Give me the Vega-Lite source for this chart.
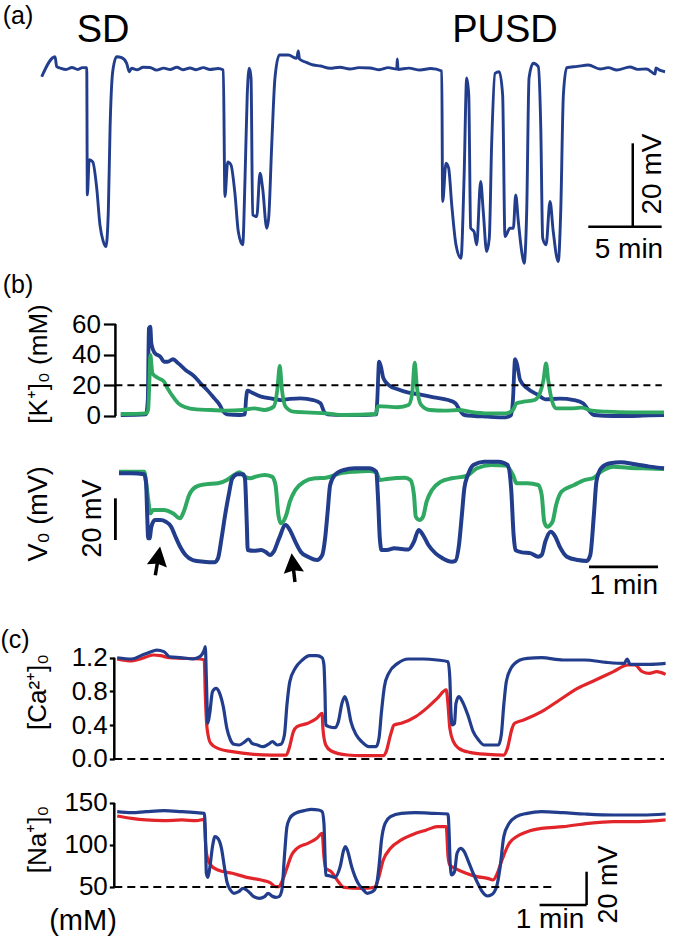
{
"$schema": "https://vega.github.io/schema/vega-lite/v6.json",
"padding": 0,
"spacing": 0,
"bounds": "flush",
"datasets": {
"a": [{"t":-0.02,"v":-1.97},{"t":0.89,"v":2.83},{"t":1.0,"v":0.43},{"t":1.23,"v":0.12},{"t":1.64,"v":-0.24},{"t":2.04,"v":0.24},{"t":2.45,"v":-0.24},{"t":2.75,"v":0.2},{"t":3.05,"v":0.19},{"t":3.09,"v":-30.3},{"t":3.22,"v":-21.9},{"t":3.46,"v":-22.4},{"t":3.73,"v":-28.7},{"t":3.95,"v":-37.5},{"t":4.18,"v":-41.5},{"t":4.36,"v":-42.7},{"t":4.52,"v":-34.3},{"t":4.64,"v":-14.3},{"t":4.82,"v":-0.77},{"t":5.09,"v":2.83},{"t":5.43,"v":2.59},{"t":5.77,"v":1.25},{"t":5.95,"v":-0.77},{"t":6.11,"v":0.05},{"t":6.5,"v":-0.3},{"t":6.9,"v":0.3},{"t":7.36,"v":0.24},{"t":7.8,"v":-0.4},{"t":8.3,"v":0.1},{"t":8.73,"v":-0.24},{"t":9.2,"v":0.3},{"t":9.6,"v":-0.3},{"t":10.09,"v":0.12},{"t":10.5,"v":-0.3},{"t":11.0,"v":0.2},{"t":11.45,"v":-0.24},{"t":12.0,"v":0},{"t":12.36,"v":-0.36},{"t":12.47,"v":-30.7},{"t":12.66,"v":-22.4},{"t":12.88,"v":-23.1},{"t":13.16,"v":-30.3},{"t":13.38,"v":-39.1},{"t":13.68,"v":-42.3},{"t":13.84,"v":-26.3},{"t":13.99,"v":-6.35},{"t":14.13,"v":0.05},{"t":14.25,"v":-2.28},{"t":14.36,"v":-35.1},{"t":14.64,"v":-35.5},{"t":14.86,"v":-25.1},{"t":15.04,"v":-28.7},{"t":15.32,"v":-38.3},{"t":15.45,"v":-35.9},{"t":15.66,"v":-18.3},{"t":15.88,"v":-2.28},{"t":16.18,"v":3.24},{"t":16.79,"v":3.24},{"t":17.36,"v":2.45},{"t":17.47,"v":4.2},{"t":17.55,"v":2.28},{"t":18.0,"v":1.5},{"t":18.49,"v":0.84},{"t":19.0,"v":0.6},{"t":19.63,"v":0.05},{"t":20.3,"v":0.3},{"t":20.99,"v":-0.12},{"t":21.6,"v":0.2},{"t":22.36,"v":0.12},{"t":23.0,"v":-0.3},{"t":23.6,"v":0.2},{"t":24.18,"v":-0.12},{"t":24.22,"v":2.28},{"t":24.27,"v":-0.24},{"t":25.0,"v":0.1},{"t":25.77,"v":-0.36},{"t":26.5,"v":0},{"t":27.25,"v":-0.6},{"t":27.31,"v":-31.9},{"t":27.54,"v":-22.7},{"t":27.72,"v":-23.9},{"t":27.93,"v":-32.7},{"t":28.22,"v":-42.3},{"t":28.56,"v":-45.5},{"t":28.77,"v":-26.3},{"t":28.95,"v":-2.28},{"t":29.09,"v":-6.35},{"t":29.22,"v":-38.3},{"t":29.45,"v":-39.1},{"t":29.63,"v":-42.3},{"t":29.9,"v":-27.1},{"t":30.08,"v":-34.3},{"t":30.31,"v":-43.9},{"t":30.49,"v":-40.7},{"t":30.65,"v":-18.3},{"t":30.88,"v":-1.15},{"t":31.17,"v":-0.77},{"t":31.4,"v":-6.35},{"t":31.56,"v":-40.3},{"t":31.9,"v":-38.3},{"t":32.13,"v":-38.3},{"t":32.29,"v":-30.3},{"t":32.47,"v":-36.7},{"t":32.7,"v":-43.9},{"t":32.86,"v":-46.7},{"t":33.04,"v":-34.3},{"t":33.2,"v":-2.28},{"t":33.49,"v":1.25},{"t":33.83,"v":0.43},{"t":34.0,"v":-14.3},{"t":34.13,"v":-40.7},{"t":34.36,"v":-42.3},{"t":34.63,"v":-31.9},{"t":34.85,"v":-39.1},{"t":35.19,"v":-46.3},{"t":35.36,"v":-34.3},{"t":35.54,"v":-6.35},{"t":35.77,"v":0.19},{"t":36.5,"v":0.5},{"t":37.24,"v":0.84},{"t":38.04,"v":-0.12},{"t":38.6,"v":0.2},{"t":39.18,"v":-0.36},{"t":40.08,"v":0.36},{"t":40.6,"v":-0.2},{"t":41.22,"v":-0.12},{"t":41.79,"v":-1.32},{"t":41.85,"v":0.12},{"t":42.1,"v":-0.4},{"t":42.47,"v":-0.77}],
"kb": [{"t":0,"v":0.65},{"t":0.365,"v":1.09},{"t":0.391,"v":10.4},{"t":0.407,"v":57.2},{"t":0.428,"v":58.3},{"t":0.443,"v":47.4},{"t":0.495,"v":40.9},{"t":0.574,"v":38.7},{"t":0.626,"v":35.4},{"t":0.678,"v":35.4},{"t":0.756,"v":37.0},{"t":0.834,"v":34.3},{"t":0.938,"v":30.0},{"t":1.069,"v":25.7},{"t":1.147,"v":21.7},{"t":1.251,"v":17.0},{"t":1.356,"v":11.5},{"t":1.434,"v":7.2},{"t":1.486,"v":2.8},{"t":1.538,"v":1.09},{"t":1.721,"v":0.65},{"t":1.799,"v":1.09},{"t":1.814,"v":10.4},{"t":1.835,"v":16.5},{"t":1.903,"v":15.2},{"t":2.033,"v":12.6},{"t":2.19,"v":11.3},{"t":2.32,"v":10.4},{"t":2.45,"v":11.1},{"t":2.607,"v":11.5},{"t":2.789,"v":10.4},{"t":2.894,"v":8.3},{"t":2.946,"v":2.8},{"t":2.998,"v":1.09},{"t":3.233,"v":0.65},{"t":3.493,"v":0.65},{"t":3.702,"v":1.09},{"t":3.717,"v":10.4},{"t":3.743,"v":35.4},{"t":3.77,"v":32.2},{"t":3.806,"v":24.6},{"t":3.884,"v":20.2},{"t":4.015,"v":17.4},{"t":4.171,"v":15.2},{"t":4.327,"v":14.1},{"t":4.536,"v":12.2},{"t":4.745,"v":10.4},{"t":4.849,"v":8.3},{"t":4.911,"v":3.9},{"t":4.979,"v":0.65},{"t":5.318,"v":-0.43},{"t":5.579,"v":-0.87},{"t":5.657,"v":0.65},{"t":5.683,"v":10.4},{"t":5.714,"v":37.0},{"t":5.745,"v":33.3},{"t":5.787,"v":23.5},{"t":5.892,"v":18.0},{"t":6.048,"v":13.7},{"t":6.152,"v":10.9},{"t":6.361,"v":11.3},{"t":6.569,"v":10.4},{"t":6.7,"v":8.3},{"t":6.778,"v":3.9},{"t":6.856,"v":0.65},{"t":7.143,"v":0},{"t":7.404,"v":0},{"t":7.664,"v":0.43},{"t":7.873,"v":0.65}],
"kg": [{"t":0,"v":1.3},{"t":0.365,"v":1.74},{"t":0.396,"v":3.9},{"t":0.417,"v":25.7},{"t":0.428,"v":39.8},{"t":0.459,"v":27.8},{"t":0.547,"v":24.6},{"t":0.626,"v":22.4},{"t":0.678,"v":18.0},{"t":0.756,"v":12.6},{"t":0.834,"v":8.3},{"t":0.938,"v":5.7},{"t":1.095,"v":4.3},{"t":1.303,"v":3.9},{"t":1.512,"v":3.5},{"t":1.773,"v":3.9},{"t":1.929,"v":5.0},{"t":2.085,"v":3.9},{"t":2.216,"v":6.1},{"t":2.268,"v":17.0},{"t":2.304,"v":32.6},{"t":2.336,"v":17.0},{"t":2.388,"v":6.1},{"t":2.503,"v":2.8},{"t":2.763,"v":2.2},{"t":2.972,"v":1.74},{"t":3.233,"v":0.65},{"t":3.691,"v":1.3},{"t":3.728,"v":6.5},{"t":4.015,"v":5.7},{"t":4.171,"v":7.2},{"t":4.223,"v":14.8},{"t":4.26,"v":34.8},{"t":4.291,"v":19.1},{"t":4.353,"v":7.2},{"t":4.484,"v":3.9},{"t":4.692,"v":3.5},{"t":4.901,"v":3.9},{"t":5.057,"v":2.8},{"t":5.318,"v":1.74},{"t":5.579,"v":1.74},{"t":5.683,"v":3.9},{"t":5.735,"v":8.3},{"t":5.839,"v":9.3},{"t":5.996,"v":10.4},{"t":6.074,"v":14.8},{"t":6.126,"v":23.5},{"t":6.163,"v":34.3},{"t":6.194,"v":23.5},{"t":6.246,"v":10.4},{"t":6.309,"v":5.0},{"t":6.517,"v":5.0},{"t":6.674,"v":5.4},{"t":6.83,"v":3.5},{"t":7.039,"v":2.8},{"t":7.404,"v":2.4},{"t":7.873,"v":2.4}],
"vb": [{"t":-0.026,"v":0},{"t":0.156,"v":0},{"t":0.339,"v":-0.48},{"t":0.365,"v":-4.0},{"t":0.386,"v":-23.2},{"t":0.396,"v":-31.2},{"t":0.417,"v":-31.2},{"t":0.443,"v":-25.6},{"t":0.495,"v":-22.4},{"t":0.574,"v":-22.4},{"t":0.652,"v":-23.2},{"t":0.73,"v":-25.6},{"t":0.782,"v":-29.6},{"t":0.86,"v":-35.2},{"t":0.938,"v":-39.2},{"t":1.043,"v":-41.6},{"t":1.199,"v":-42.4},{"t":1.356,"v":-42.7},{"t":1.408,"v":-40.8},{"t":1.46,"v":-31.2},{"t":1.512,"v":-20.0},{"t":1.564,"v":-10.4},{"t":1.616,"v":-2.4},{"t":1.694,"v":-0.48},{"t":1.773,"v":-0.48},{"t":1.799,"v":-2.4},{"t":1.825,"v":-23.2},{"t":1.84,"v":-36.8},{"t":1.929,"v":-37.2},{"t":2.033,"v":-36.8},{"t":2.096,"v":-37.6},{"t":2.164,"v":-39.2},{"t":2.216,"v":-37.6},{"t":2.294,"v":-31.2},{"t":2.388,"v":-24.8},{"t":2.45,"v":-27.2},{"t":2.529,"v":-32.8},{"t":2.607,"v":-37.6},{"t":2.711,"v":-40.0},{"t":2.842,"v":-41.6},{"t":2.92,"v":-39.2},{"t":2.961,"v":-31.2},{"t":2.998,"v":-18.4},{"t":3.034,"v":-5.6},{"t":3.102,"v":-0.8},{"t":3.233,"v":1.6},{"t":3.389,"v":2.4},{"t":3.598,"v":2.4},{"t":3.702,"v":0.8},{"t":3.728,"v":-12.0},{"t":3.754,"v":-31.2},{"t":3.78,"v":-36.8},{"t":3.858,"v":-36.8},{"t":3.962,"v":-36.0},{"t":4.171,"v":-36.5},{"t":4.249,"v":-32.8},{"t":4.317,"v":-27.2},{"t":4.38,"v":-29.6},{"t":4.458,"v":-34.4},{"t":4.562,"v":-38.4},{"t":4.666,"v":-40.8},{"t":4.797,"v":-42.4},{"t":4.849,"v":-42.0},{"t":4.901,"v":-34.4},{"t":4.943,"v":-20.0},{"t":4.979,"v":-7.2},{"t":5.031,"v":-0.8},{"t":5.11,"v":4.0},{"t":5.266,"v":5.6},{"t":5.474,"v":5.6},{"t":5.605,"v":4.0},{"t":5.657,"v":-7.2},{"t":5.693,"v":-29.6},{"t":5.72,"v":-36.8},{"t":5.813,"v":-37.9},{"t":5.944,"v":-38.4},{"t":6.048,"v":-40.0},{"t":6.1,"v":-39.2},{"t":6.152,"v":-32.8},{"t":6.23,"v":-28.0},{"t":6.298,"v":-30.4},{"t":6.361,"v":-35.2},{"t":6.465,"v":-40.0},{"t":6.622,"v":-41.6},{"t":6.752,"v":-42.0},{"t":6.804,"v":-39.2},{"t":6.856,"v":-20.0},{"t":6.893,"v":-4.0},{"t":6.96,"v":2.4},{"t":7.091,"v":4.8},{"t":7.247,"v":5.3},{"t":7.456,"v":4.3},{"t":7.664,"v":3.2},{"t":7.873,"v":2.4}],
"vg": [{"t":-0.026,"v":0.8},{"t":0.339,"v":0.8},{"t":0.365,"v":-4.0},{"t":0.407,"v":-15.2},{"t":0.428,"v":-19.2},{"t":0.469,"v":-17.6},{"t":0.626,"v":-17.6},{"t":0.756,"v":-19.2},{"t":0.86,"v":-21.6},{"t":0.912,"v":-18.4},{"t":0.991,"v":-10.4},{"t":1.095,"v":-6.4},{"t":1.225,"v":-5.3},{"t":1.408,"v":-4.8},{"t":1.538,"v":-3.2},{"t":1.642,"v":-0.8},{"t":1.721,"v":0.48},{"t":1.799,"v":-1.6},{"t":1.877,"v":-2.4},{"t":1.955,"v":-1.6},{"t":2.085,"v":-0.8},{"t":2.19,"v":-1.6},{"t":2.242,"v":-5.6},{"t":2.284,"v":-20.0},{"t":2.32,"v":-24.0},{"t":2.398,"v":-20.0},{"t":2.45,"v":-13.6},{"t":2.529,"v":-8.0},{"t":2.659,"v":-4.0},{"t":2.815,"v":-2.4},{"t":2.972,"v":-2.1},{"t":3.18,"v":0},{"t":3.389,"v":0.8},{"t":3.598,"v":1.1},{"t":3.702,"v":0.48},{"t":3.754,"v":-3.2},{"t":3.858,"v":-2.7},{"t":4.119,"v":-2.1},{"t":4.197,"v":-3.2},{"t":4.249,"v":-10.4},{"t":4.275,"v":-20.8},{"t":4.327,"v":-22.4},{"t":4.38,"v":-20.8},{"t":4.432,"v":-13.6},{"t":4.51,"v":-8.0},{"t":4.64,"v":-4.0},{"t":4.797,"v":-2.4},{"t":5.005,"v":-1.3},{"t":5.162,"v":2.4},{"t":5.37,"v":4.0},{"t":5.579,"v":3.7},{"t":5.683,"v":-0.8},{"t":5.735,"v":-4.8},{"t":5.892,"v":-4.8},{"t":6.048,"v":-5.6},{"t":6.1,"v":-10.4},{"t":6.137,"v":-23.2},{"t":6.178,"v":-25.6},{"t":6.257,"v":-23.2},{"t":6.309,"v":-15.2},{"t":6.387,"v":-8.8},{"t":6.569,"v":-5.6},{"t":6.726,"v":-3.2},{"t":6.856,"v":-2.1},{"t":6.96,"v":0.8},{"t":7.143,"v":3.2},{"t":7.351,"v":2.7},{"t":7.56,"v":2.4},{"t":7.873,"v":2.1}],
"cab": [{"t":0.004,"v":1.2},{"t":0.307,"v":1.185},{"t":0.535,"v":1.232},{"t":0.687,"v":1.264},{"t":0.838,"v":1.291},{"t":0.99,"v":1.272},{"t":1.104,"v":1.212},{"t":1.369,"v":1.2},{"t":1.597,"v":1.185},{"t":1.749,"v":1.212},{"t":1.84,"v":1.291},{"t":1.863,"v":1.331},{"t":1.885,"v":0.956},{"t":1.916,"v":0.423},{"t":1.961,"v":0.561},{"t":2.014,"v":0.798},{"t":2.09,"v":0.837},{"t":2.166,"v":0.778},{"t":2.242,"v":0.62},{"t":2.318,"v":0.363},{"t":2.394,"v":0.225},{"t":2.469,"v":0.174},{"t":2.583,"v":0.166},{"t":2.697,"v":0.205},{"t":2.773,"v":0.237},{"t":2.848,"v":0.186},{"t":2.962,"v":0.166},{"t":3.076,"v":0.146},{"t":3.19,"v":0.174},{"t":3.281,"v":0.205},{"t":3.38,"v":0.166},{"t":3.456,"v":0.174},{"t":3.532,"v":0.284},{"t":3.585,"v":0.64},{"t":3.646,"v":0.916},{"t":3.759,"v":1.074},{"t":3.911,"v":1.173},{"t":4.063,"v":1.224},{"t":4.215,"v":1.224},{"t":4.328,"v":1.2},{"t":4.366,"v":1.114},{"t":4.389,"v":0.758},{"t":4.404,"v":0.403},{"t":4.48,"v":0.383},{"t":4.594,"v":0.371},{"t":4.67,"v":0.442},{"t":4.746,"v":0.66},{"t":4.806,"v":0.739},{"t":4.86,"v":0.66},{"t":4.935,"v":0.442},{"t":5.049,"v":0.284},{"t":5.163,"v":0.205},{"t":5.315,"v":0.146},{"t":5.467,"v":0.146},{"t":5.527,"v":0.245},{"t":5.58,"v":0.561},{"t":5.641,"v":0.857},{"t":5.732,"v":1.015},{"t":5.922,"v":1.133},{"t":6.149,"v":1.185},{"t":6.453,"v":1.185},{"t":6.756,"v":1.173},{"t":6.984,"v":1.153},{"t":7.022,"v":0.956},{"t":7.045,"v":0.561},{"t":7.075,"v":0.403},{"t":7.121,"v":0.423},{"t":7.151,"v":0.66},{"t":7.212,"v":0.739},{"t":7.288,"v":0.679},{"t":7.402,"v":0.521},{"t":7.515,"v":0.324},{"t":7.629,"v":0.225},{"t":7.743,"v":0.166},{"t":7.895,"v":0.166},{"t":8.046,"v":0.166},{"t":8.107,"v":0.284},{"t":8.16,"v":0.64},{"t":8.213,"v":0.916},{"t":8.312,"v":1.074},{"t":8.502,"v":1.173},{"t":8.654,"v":1.193},{"t":8.957,"v":1.2},{"t":9.412,"v":1.173},{"t":9.867,"v":1.173},{"t":10.323,"v":1.145},{"t":10.702,"v":1.133},{"t":10.763,"v":1.185},{"t":10.823,"v":1.122},{"t":11.233,"v":1.122},{"t":11.574,"v":1.133}],
"car": [{"t":0.004,"v":1.185},{"t":0.307,"v":1.161},{"t":0.535,"v":1.193},{"t":0.763,"v":1.232},{"t":0.915,"v":1.224},{"t":1.104,"v":1.2},{"t":1.369,"v":1.193},{"t":1.749,"v":1.185},{"t":1.84,"v":1.173},{"t":1.863,"v":0.758},{"t":1.9,"v":0.363},{"t":1.976,"v":0.186},{"t":2.128,"v":0.126},{"t":2.432,"v":0.087},{"t":2.887,"v":0.055},{"t":3.267,"v":0.047},{"t":3.57,"v":0.047},{"t":3.631,"v":0.126},{"t":3.722,"v":0.324},{"t":3.798,"v":0.383},{"t":4.025,"v":0.423},{"t":4.215,"v":0.482},{"t":4.328,"v":0.541},{"t":4.344,"v":0.363},{"t":4.404,"v":0.166},{"t":4.518,"v":0.095},{"t":4.859,"v":0.047},{"t":5.163,"v":0.039},{"t":5.618,"v":0.039},{"t":5.679,"v":0.087},{"t":5.77,"v":0.284},{"t":5.846,"v":0.403},{"t":5.998,"v":0.423},{"t":6.301,"v":0.502},{"t":6.529,"v":0.6},{"t":6.756,"v":0.719},{"t":6.946,"v":0.818},{"t":6.984,"v":0.64},{"t":7.022,"v":0.363},{"t":7.098,"v":0.205},{"t":7.212,"v":0.126},{"t":7.439,"v":0.079},{"t":7.819,"v":0.055},{"t":8.16,"v":0.047},{"t":8.236,"v":0.126},{"t":8.335,"v":0.363},{"t":8.388,"v":0.423},{"t":8.578,"v":0.462},{"t":8.957,"v":0.561},{"t":9.336,"v":0.699},{"t":9.715,"v":0.837},{"t":10.095,"v":0.936},{"t":10.474,"v":1.035},{"t":10.778,"v":1.114},{"t":10.93,"v":1.114},{"t":11.081,"v":1.035},{"t":11.233,"v":1.015},{"t":11.385,"v":1.035},{"t":11.574,"v":1.003}],
"nab": [{"t":0.004,"v":139.7},{"t":0.307,"v":138.5},{"t":0.611,"v":139.7},{"t":0.99,"v":140.9},{"t":1.369,"v":139.7},{"t":1.673,"v":138.5},{"t":1.84,"v":137.7},{"t":1.863,"v":117.9},{"t":1.885,"v":66.3},{"t":1.916,"v":61.5},{"t":1.961,"v":74.2},{"t":2.014,"v":98.0},{"t":2.067,"v":109.9},{"t":2.128,"v":107.9},{"t":2.204,"v":96.0},{"t":2.265,"v":74.2},{"t":2.318,"v":56.3},{"t":2.394,"v":46.4},{"t":2.469,"v":42.5},{"t":2.568,"v":44.4},{"t":2.659,"v":48.4},{"t":2.735,"v":46.4},{"t":2.811,"v":42.5},{"t":2.887,"v":38.5},{"t":3.001,"v":36.5},{"t":3.115,"v":38.5},{"t":3.19,"v":42.5},{"t":3.266,"v":39.3},{"t":3.357,"v":37.7},{"t":3.418,"v":38.5},{"t":3.479,"v":46.4},{"t":3.532,"v":86.1},{"t":3.585,"v":121.8},{"t":3.646,"v":131.7},{"t":3.759,"v":137.7},{"t":3.949,"v":140.9},{"t":4.101,"v":142.5},{"t":4.253,"v":141.7},{"t":4.328,"v":139.7},{"t":4.366,"v":125.8},{"t":4.389,"v":86.1},{"t":4.404,"v":64.3},{"t":4.495,"v":63.1},{"t":4.594,"v":61.5},{"t":4.708,"v":74.2},{"t":4.783,"v":94.0},{"t":4.821,"v":98.0},{"t":4.86,"v":94.0},{"t":4.951,"v":74.2},{"t":5.087,"v":54.4},{"t":5.201,"v":46.4},{"t":5.277,"v":42.5},{"t":5.391,"v":44.4},{"t":5.467,"v":50.4},{"t":5.527,"v":74.2},{"t":5.58,"v":106.0},{"t":5.656,"v":125.8},{"t":5.77,"v":133.7},{"t":5.998,"v":137.7},{"t":6.301,"v":138.5},{"t":6.681,"v":137.7},{"t":6.984,"v":136.9},{"t":7.007,"v":113.9},{"t":7.029,"v":78.2},{"t":7.06,"v":64.3},{"t":7.121,"v":68.3},{"t":7.174,"v":90.1},{"t":7.25,"v":96.0},{"t":7.326,"v":92.1},{"t":7.402,"v":82.1},{"t":7.515,"v":66.3},{"t":7.629,"v":52.4},{"t":7.705,"v":44.4},{"t":7.819,"v":39.3},{"t":7.895,"v":40.5},{"t":8.008,"v":50.4},{"t":8.084,"v":74.2},{"t":8.16,"v":109.9},{"t":8.274,"v":125.8},{"t":8.426,"v":133.7},{"t":8.654,"v":137.7},{"t":8.957,"v":139.7},{"t":9.412,"v":138.5},{"t":9.867,"v":136.9},{"t":10.474,"v":135.7},{"t":11.081,"v":135.7},{"t":11.574,"v":136.9}],
"nar": [{"t":0.004,"v":134.5},{"t":0.307,"v":131.7},{"t":0.611,"v":129.8},{"t":0.99,"v":129.0},{"t":1.369,"v":129.8},{"t":1.673,"v":129.0},{"t":1.84,"v":130.6},{"t":1.863,"v":106.0},{"t":1.9,"v":86.1},{"t":1.976,"v":76.2},{"t":2.128,"v":70.2},{"t":2.432,"v":66.3},{"t":2.735,"v":61.5},{"t":3.039,"v":58.3},{"t":3.229,"v":55.2},{"t":3.342,"v":50.4},{"t":3.418,"v":50.4},{"t":3.479,"v":56.3},{"t":3.57,"v":70.2},{"t":3.684,"v":88.1},{"t":3.798,"v":96.0},{"t":4.025,"v":102.0},{"t":4.215,"v":107.9},{"t":4.328,"v":113.9},{"t":4.366,"v":86.1},{"t":4.404,"v":72.2},{"t":4.518,"v":68.3},{"t":4.67,"v":56.3},{"t":4.783,"v":49.6},{"t":5.163,"v":48.4},{"t":5.429,"v":49.6},{"t":5.505,"v":58.3},{"t":5.618,"v":82.1},{"t":5.77,"v":96.0},{"t":5.998,"v":106.0},{"t":6.301,"v":113.9},{"t":6.529,"v":117.9},{"t":6.756,"v":121.8},{"t":6.946,"v":121.8},{"t":6.984,"v":86.1},{"t":7.022,"v":76.2},{"t":7.136,"v":72.2},{"t":7.364,"v":66.3},{"t":7.592,"v":62.3},{"t":7.819,"v":60.3},{"t":7.933,"v":58.3},{"t":8.008,"v":64.3},{"t":8.122,"v":82.1},{"t":8.274,"v":102.0},{"t":8.426,"v":109.9},{"t":8.654,"v":115.9},{"t":8.957,"v":119.8},{"t":9.412,"v":121.8},{"t":9.943,"v":125.8},{"t":10.474,"v":127.8},{"t":11.005,"v":127.8},{"t":11.574,"v":129.8}]
},
"vconcat": [
{
"width": 674, "height": 272,
"encoding": {
"x": {"field": "t", "type": "quantitative", "scale": {"domain": [-2.863, 43.081], "nice": false, "zero": false}, "axis": null},
"y": {"field": "v", "type": "quantitative", "scale": {"domain": [-48.801, 16.427], "nice": false, "zero": false}, "axis": null}
},
"layer": [
{"data": {"name": "a"}, "mark": {"type": "line", "color": "#223d8c", "strokeWidth": 2.9, "interpolate": "monotone"}},
{"data": {"values": [{"t": 40.27, "t2": 40.27, "v": -17.94, "v2": -37.94}, {"t": 37.24, "t2": 42.24, "v": -37.94, "v2": -37.94}]},
 "mark": {"type": "rule", "color": "black", "strokeWidth": 2.5},
 "encoding": {"x2": {"field": "t2"}, "y2": {"field": "v2"}}},
{"data": {"values": [{"label": "SD", "t": 4.16, "v": 9.0}, {"label": "PUSD", "t": 31.56, "v": 9.0}]},
 "mark": {"type": "text", "fontSize": 38, "align": "center", "baseline": "middle"},
 "encoding": {"text": {"field": "label"}}},
{"data": {"values": [{"label": "(a)", "t": -1.636, "v": 12.7}]},
 "mark": {"type": "text", "fontSize": 25, "align": "center", "baseline": "middle"},
 "encoding": {"text": {"field": "label"}}},
{"data": {"values": [{"label": "5 min", "t": 40.01, "v": -43.53}]},
 "mark": {"type": "text", "fontSize": 28, "align": "center", "baseline": "middle"},
 "encoding": {"text": {"field": "label"}}},
{"data": {"values": [{"label": "20 mV", "t": 41.62, "v": -25.3}]},
 "mark": {"type": "text", "fontSize": 28, "angle": 270, "align": "center", "baseline": "middle"},
 "encoding": {"text": {"field": "label"}}}
]
},
{
"width": 674, "height": 160,
"encoding": {
"x": {"field": "t", "type": "quantitative", "scale": {"domain": [-1.7507, 8.0174], "nice": false, "zero": false}, "axis": null},
"y": {"field": "v", "type": "quantitative", "scale": {"domain": [-10.44, 93.93], "nice": false, "zero": false},
 "axis": {"values": [0, 20, 40, 60], "offset": -115.4, "tickSize": 12, "labelPadding": 3, "title": "[K⁺]₀ (mM)", "titleAngle": 270, "titleX": -76.9, "titleY": 91.5, "titleAlign": "center", "titleBaseline": "middle"}}
},
"layer": [
{"data": {"name": "kb"}, "mark": {"type": "line", "color": "#223d8c", "strokeWidth": 3.8, "interpolate": "monotone"}},
{"data": {"name": "kg"}, "mark": {"type": "line", "color": "#2fa862", "strokeWidth": 3.8, "interpolate": "monotone"}},
{"data": {"values": [{"t": -0.078, "t2": 7.84, "v": 20}]},
 "mark": {"type": "rule", "color": "black", "strokeWidth": 2, "strokeDash": [7, 5]},
 "encoding": {"x2": {"field": "t2"}}},
{"data": {"values": [{"t": -0.078, "v": 0, "v2": 60}]},
 "mark": {"type": "rule", "color": "black", "strokeWidth": 2.5},
 "encoding": {"y2": {"field": "v2"}}},
{"data": {"values": [{"label": "(b)", "t": -1.49, "v": 85.45}]},
 "mark": {"type": "text", "fontSize": 25, "align": "center", "baseline": "middle"},
 "encoding": {"text": {"field": "label"}}}
]
},
{
"width": 674, "height": 178,
"encoding": {
"x": {"field": "t", "type": "quantitative", "scale": {"domain": [-1.7507, 8.0174], "nice": false, "zero": false}, "axis": null},
"y": {"field": "v", "type": "quantitative", "scale": {"domain": [-65.56, 19.81], "nice": false, "zero": false}, "axis": null}
},
"layer": [
{"data": {"name": "vg"}, "mark": {"type": "line", "color": "#2fa862", "strokeWidth": 4, "interpolate": "monotone"}},
{"data": {"name": "vb"}, "mark": {"type": "line", "color": "#223d8c", "strokeWidth": 4, "interpolate": "monotone"}},
{"data": {"values": [{"t": -0.078, "t2": -0.078, "v": -12.0, "v2": -32.0}, {"t": 6.786, "t2": 7.786, "v": -44.9, "v2": -44.9}]},
 "mark": {"type": "rule", "color": "black", "strokeWidth": 2.8},
 "encoding": {"x2": {"field": "t2"}, "y2": {"field": "v2"}}},
{"data": {"values": [{"label": "20 mV", "t": -0.396, "v": -21.7}, {"label": "V₀ (mV)", "t": -1.186, "v": -19.5}]},
 "mark": {"type": "text", "fontSize": 27, "angle": 270, "align": "center", "baseline": "middle"},
 "encoding": {"text": {"field": "label"}}},
{"data": {"values": [{"label": "1 min", "t": 7.29, "v": -54.0}]},
 "mark": {"type": "text", "fontSize": 28, "align": "center", "baseline": "middle"},
 "encoding": {"text": {"field": "label"}}},
{"data": {"values": [{"t": 0.535, "v": -42.0}]},
 "mark": {"type": "point", "shape": "M0,-1L0.7,0.35L0.12,0.22L0.12,1L-0.12,1L-0.12,0.22L-0.7,0.35Z", "filled": true, "color": "black", "opacity": 1, "size": 841, "angle": 9.5}},
{"data": {"values": [{"t": 2.5, "v": -45.2}]},
 "mark": {"type": "point", "shape": "M0,-1L0.7,0.35L0.12,0.22L0.12,1L-0.12,1L-0.12,0.22L-0.7,0.35Z", "filled": true, "color": "black", "opacity": 1, "size": 841, "angle": -6.6}}
]
},
{
"width": 674, "height": 165,
"encoding": {
"x": {"field": "t", "type": "quantitative", "scale": {"domain": [-2.4684, 11.7511], "nice": false, "zero": false}, "axis": null},
"y": {"field": "v", "type": "quantitative", "scale": {"domain": [-0.1896, 1.7654], "nice": false, "zero": false},
 "axis": {"values": [0, 0.4, 0.8, 1.2], "format": ".1f", "offset": -114.3, "tickSize": 5, "labelPadding": 2, "title": "[Ca²⁺]₀", "titleAngle": 270, "titleX": -76.8, "titleY": 81.5, "titleAlign": "center", "titleBaseline": "middle"}}
},
"layer": [
{"data": {"name": "car"}, "mark": {"type": "line", "color": "#e2252b", "strokeWidth": 3.2, "interpolate": "monotone"}},
{"data": {"name": "cab"}, "mark": {"type": "line", "color": "#223d8c", "strokeWidth": 3.2, "interpolate": "monotone"}},
{"data": {"values": [{"t": -0.057, "t2": 11.54, "v": 0}]},
 "mark": {"type": "rule", "color": "black", "strokeWidth": 2, "strokeDash": [8, 5]},
 "encoding": {"x2": {"field": "t2"}}},
{"data": {"values": [{"t": -0.057, "v": 0, "v2": 1.2}]},
 "mark": {"type": "rule", "color": "black", "strokeWidth": 2.5},
 "encoding": {"y2": {"field": "v2"}}},
{"data": {"values": [{"label": "(c)", "t": -2.152, "v": 1.41}]},
 "mark": {"type": "text", "fontSize": 25, "align": "center", "baseline": "middle"},
 "encoding": {"text": {"field": "label"}}}
]
},
{
"width": 674, "height": 165,
"encoding": {
"x": {"field": "t", "type": "quantitative", "scale": {"domain": [-2.4684, 11.7511], "nice": false, "zero": false}, "axis": null},
"y": {"field": "v", "type": "quantitative", "scale": {"domain": [-13.1, 183.33], "nice": false, "zero": false},
 "axis": {"values": [50, 100, 150], "offset": -114.3, "tickSize": 5, "labelPadding": 2, "title": "[Na⁺]₀", "titleAngle": 270, "titleX": -76.8, "titleY": 64, "titleAlign": "center", "titleBaseline": "middle"}}
},
"layer": [
{"data": {"name": "nar"}, "mark": {"type": "line", "color": "#e2252b", "strokeWidth": 3.2, "interpolate": "monotone"}},
{"data": {"name": "nab"}, "mark": {"type": "line", "color": "#223d8c", "strokeWidth": 3.2, "interpolate": "monotone"}},
{"data": {"values": [{"t": -0.057, "t2": 9.26, "v": 50}]},
 "mark": {"type": "rule", "color": "black", "strokeWidth": 2, "strokeDash": [8, 5]},
 "encoding": {"x2": {"field": "t2"}}},
{"data": {"values": [{"t": -0.057, "t2": -0.057, "v": 50, "v2": 150}, {"t": 9.907, "t2": 9.907, "v": 68.2, "v2": 28.57}, {"t": 8.915, "t2": 9.907, "v": 28.57, "v2": 28.57}]},
 "mark": {"type": "rule", "color": "black", "strokeWidth": 2.5},
 "encoding": {"x2": {"field": "t2"}, "y2": {"field": "v2"}}},
{"data": {"values": [{"label": "(mM)", "t": -0.717, "v": 8.93}]},
 "mark": {"type": "text", "fontSize": 29, "align": "center", "baseline": "middle"},
 "encoding": {"text": {"field": "label"}}},
{"data": {"values": [{"label": "1 min", "t": 9.135, "v": 10.7}]},
 "mark": {"type": "text", "fontSize": 28, "align": "center", "baseline": "middle"},
 "encoding": {"text": {"field": "label"}}},
{"data": {"values": [{"label": "20 mV", "t": 10.39, "v": 53.0}]},
 "mark": {"type": "text", "fontSize": 27, "angle": 270, "align": "center", "baseline": "middle"},
 "encoding": {"text": {"field": "label"}}}
]
}
],
"config": {
"view": {"stroke": null},
"axis": {"labelFont": "Liberation Sans", "titleFont": "Liberation Sans", "labelFontSize": 26, "titleFontSize": 26, "titleFontWeight": "normal", "labelColor": "black", "titleColor": "black", "tickColor": "black", "tickWidth": 2.2, "grid": false, "domain": false},
"text": {"font": "Liberation Sans", "fontSize": 24, "color": "black"}
}
}
